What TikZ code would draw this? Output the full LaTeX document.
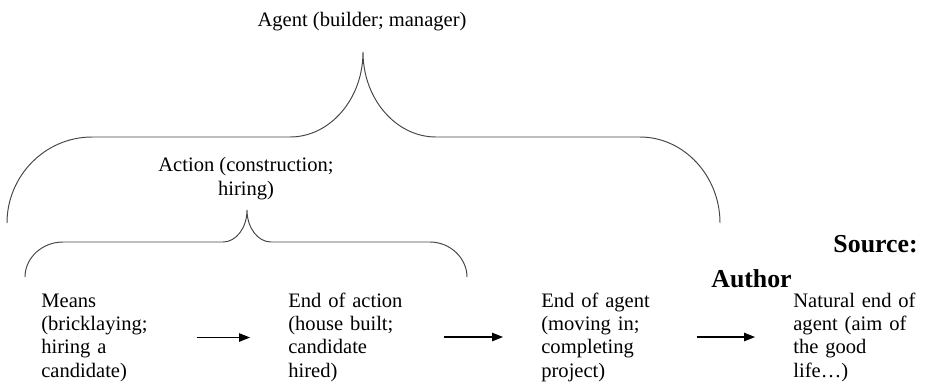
\documentclass[tikz,border=0pt]{standalone}
\usepackage{fontspec}
\setmainfont{Liberation Serif}
\usetikzlibrary{arrows.meta}
\newcommand{\labelsize}{\fontsize{11.7}{13.3}\selectfont}
\newcommand{\sourcesize}{\fontsize{14.7}{17}\selectfont}
\definecolor{bracegray}{RGB}{70,70,70}

\begin{document}
\begin{tikzpicture}[x=0.02cm, y=0.02cm, font=\labelsize,
    brace/.style={bracegray, line width=0.55pt},
    stage/.style={anchor=base west, inner sep=0pt, text width=3cm, align=left},
    flow/.style={-{Triangle[length=2.2mm, width=1.7mm]}, line width=0.6pt, shorten <=0.1cm, shorten >=0.76cm},
    credit/.style={inner sep=0pt, font=\sourcesize\bfseries}]

    \useasboundingbox (0,0) rectangle (926,-386);

    % Top labels
    \node[anchor=base] (agent) at (362,-26) {Agent (builder; manager)};
    \node[anchor=base, align=center, inner sep=0pt] (action) at (246,-195) {Action (construction;\\hiring)};

    % Agent brace
    \draw[brace] (7,-223) .. controls (7,-176) and (45,-137) .. (92,-137) -- (290,-137)
        .. controls (330,-137) and (363,-99) .. (363,-52)
        .. controls (363,-99) and (396,-137) .. (436,-137) -- (640,-137)
        .. controls (684,-137) and (720,-176) .. (720,-223);

    % Action brace
    \draw[brace] (25,-277) .. controls (25,-258) and (42,-242) .. (63,-242) -- (223,-242)
        .. controls (236,-242) and (247,-228) .. (247,-210)
        .. controls (247,-228) and (258,-242) .. (271,-242) -- (430,-242)
        .. controls (450,-242) and (467,-258) .. (467,-277);

    % Stages
    \node[stage] (means) at (41,-307) {Means\\(bricklaying;\\hiring a\\candidate)};
    \node[stage] (endact) at (288,-307) {End of action\\(house built;\\candidate\\hired)};
    \node[stage] (endagent) at (541,-307) {End of agent\\(moving in;\\completing\\project)};
    \node[stage] (natend) at (793,-307) {Natural end of\\agent (aim of\\the good\\life…)};

    % Arrows
    \draw[flow, yshift=0.06cm] (means.east) -- (means.east -| endact.west);
    \draw[flow, yshift=0.06cm] (endact.east) -- (endact.east -| endagent.west);
    \draw[flow, yshift=0.06cm] (endagent.east) -- (endagent.east -| natend.west);

    % Source
    \node[credit, anchor=base east] (source) at (918,-252) {Source:};
    \node[credit, anchor=base west] (author) at (711,-287) {Author};

\end{tikzpicture}
\end{document}
